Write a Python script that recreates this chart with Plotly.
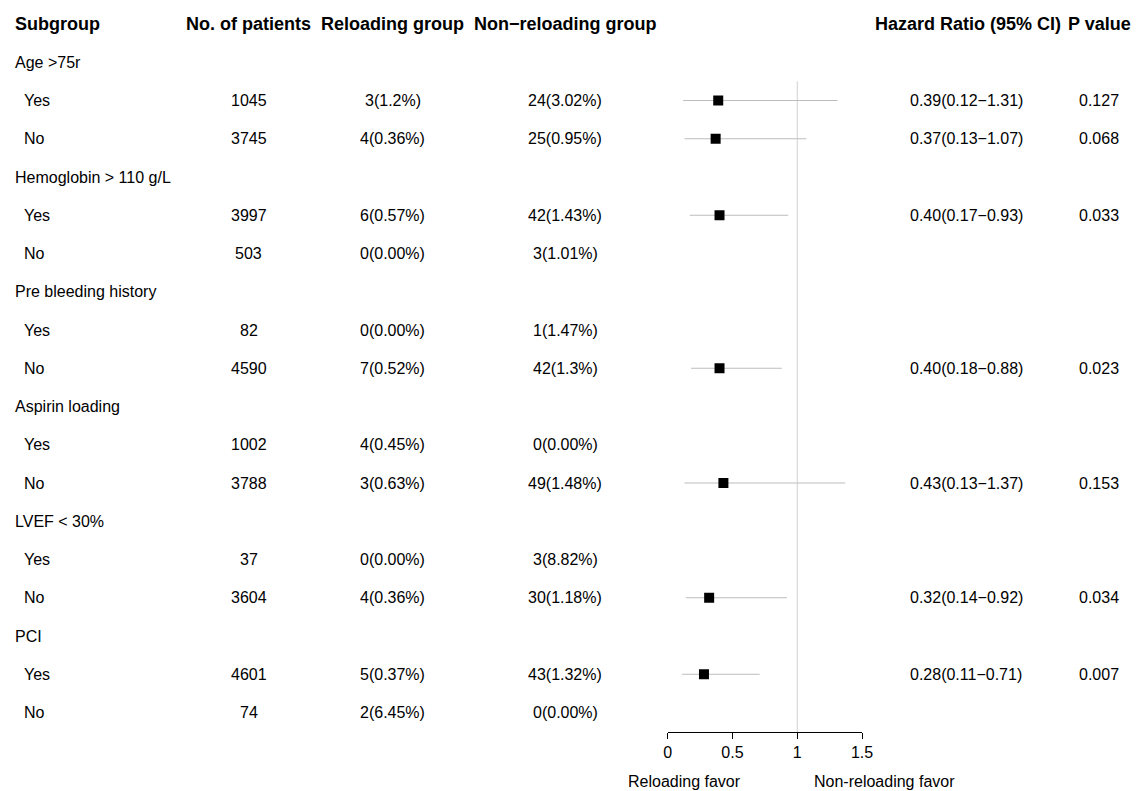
import plotly.graph_objects as go

# ---------------- data ----------------
row_labels = ["Age >75r", "Yes", "No",
              "Hemoglobin > 110 g/L", "Yes", "No",
              "Pre bleeding history", "Yes", "No",
              "Aspirin loading", "Yes", "No",
              "LVEF < 30%", "Yes", "No",
              "PCI", "Yes", "No"]
is_header = [True, False, False] * 6
patients = ["", "1045", "3745", "", "3997", "503", "", "82", "4590",
            "", "1002", "3788", "", "37", "3604", "", "4601", "74"]
reloading = ["", "3(1.2%)", "4(0.36%)", "", "6(0.57%)", "0(0.00%)",
             "", "0(0.00%)", "7(0.52%)", "", "4(0.45%)", "3(0.63%)",
             "", "0(0.00%)", "4(0.36%)", "", "5(0.37%)", "2(6.45%)"]
nonreloading = ["", "24(3.02%)", "25(0.95%)", "", "42(1.43%)", "3(1.01%)",
                "", "1(1.47%)", "42(1.3%)", "", "0(0.00%)", "49(1.48%)",
                "", "3(8.82%)", "30(1.18%)", "", "43(1.32%)", "0(0.00%)"]
hr = [None, 0.39, 0.37, None, 0.40, None, None, None, 0.40,
      None, None, 0.43, None, None, 0.32, None, 0.28, None]
hr_lo = [None, 0.12, 0.13, None, 0.17, None, None, None, 0.18,
         None, None, 0.13, None, None, 0.14, None, 0.11, None]
hr_hi = [None, 1.31, 1.07, None, 0.93, None, None, None, 0.88,
         None, None, 1.37, None, None, 0.92, None, 0.71, None]
pvals = ["", "0.127", "0.068", "", "0.033", "", "", "", "0.023",
         "", "", "0.153", "", "", "0.034", "", "0.007", ""]
col_headers = ["Subgroup", "No. of patients", "Reloading group",
               "Non\u2212reloading group", "Hazard Ratio (95% CI)", "P value"]
x_ticks = [0, 0.5, 1, 1.5]
ref_value = 1
favor_labels = ["Reloading favor", "Non-reloading favor"]

# ---------------- layout constants ----------------
W, H = 1143, 791
FONT = "Liberation Sans, Arial, Helvetica, sans-serif"
FS = 16
FS_B = 18
row0_px, row_step = 24, 38.25          # pixel y of header row and spacing
axis_px = 732                          # pixel y of x axis line
x0_px, x15_px = 672.5, 869.5           # pixel x of 0 and 1.5
rows = list(range(1, len(row_labels) + 1))

def px(x):
    return x / W

fig = go.Figure()

# confidence interval lines
ci_x, ci_y = [], []
for r, lo, hi in zip(rows, hr_lo, hr_hi):
    if lo is not None:
        ci_x += [lo, hi, None]
        ci_y += [r, r, None]
fig.add_trace(go.Scatter(x=ci_x, y=ci_y, mode="lines",
                         line=dict(color="#bdbdbd", width=1),
                         hoverinfo="skip", showlegend=False))
# point estimates
pts = [(h, r) for h, r in zip(hr, rows) if h is not None]
fig.add_trace(go.Scatter(x=[p[0] for p in pts], y=[p[1] for p in pts],
                         mode="markers",
                         marker=dict(symbol="square", size=10, color="black"),
                         showlegend=False, cliponaxis=False))

# reference line at HR = 1
fig.add_shape(type="line", xref="x", yref="y", x0=ref_value, x1=ref_value,
              y0=1.5, y1=(axis_px - row0_px) / row_step,
              line=dict(color="#d0d0d0", width=1), layer="below")

ann = []
# column headers
hdr_x = [9, 248, 394, 569, 977, 1110]
hdr_anchor = ["left", "center", "center", "center", "center", "center"]
for t, x, a in zip(col_headers, hdr_x, hdr_anchor):
    ann.append(dict(text=f"<b>{t}</b>", x=px(x), y=0, xref="paper", yref="y",
                    xanchor=a, yanchor="middle", showarrow=False,
                    font=dict(size=FS_B, color="black", family=FONT)))
# rows
for r, lab, hd, n, rl, nr, h, lo, hi, p in zip(rows, row_labels, is_header, patients,
                                               reloading, nonreloading, hr, hr_lo, hr_hi, pvals):
    ann.append(dict(text=lab, x=px(9 if hd else 18), y=r, xref="paper", yref="y",
                    xanchor="left", yanchor="middle", showarrow=False,
                    font=dict(size=FS, color="black", family=FONT)))
    for txt, x in [(n, 248), (rl, 394), (nr, 568.5), (p, 1110)]:
        if txt:
            ann.append(dict(text=txt, x=px(x), y=r, xref="paper", yref="y",
                            xanchor="center", yanchor="middle", showarrow=False,
                            font=dict(size=FS, color="black", family=FONT)))
    if h is not None:
        ann.append(dict(text=f"{h:.2f}({lo:.2f}\u2212{hi:.2f})", x=px(975), y=r,
                        xref="paper", yref="y", xanchor="center", yanchor="middle",
                        showarrow=False, font=dict(size=FS, color="black", family=FONT)))
# favor labels
for t, x in zip(favor_labels, [690, 892]):
    ann.append(dict(text=t, x=px(x), y=(H - 781) / H, xref="paper", yref="paper",
                    xanchor="center", yanchor="middle", showarrow=False,
                    font=dict(size=FS, color="black", family=FONT)))

fig.update_layout(
    width=W, height=H, margin=dict(l=0, r=0, t=0, b=0),
    paper_bgcolor="white", plot_bgcolor="white",
    annotations=ann,
    xaxis=dict(domain=[px(x0_px), px(x15_px)], range=[0, 1.5],
               tickvals=x_ticks, ticktext=[f"{v:g}" for v in x_ticks],
               showgrid=False, zeroline=False, showline=True,
               linecolor="black", linewidth=1, ticks="outside", ticklen=6,
               tickcolor="black", tickfont=dict(size=FS, color="black", family=FONT)),
    yaxis=dict(domain=[(H - axis_px) / H, 1],
               range=[(axis_px - row0_px) / row_step, -row0_px / row_step],
               visible=False, showgrid=False, zeroline=False),
)

fig.write_html("out.html", config={"displayModeBar": False},
               post_script="document.body.style.margin='0px';"
                           "document.body.style.overflow='hidden';")
